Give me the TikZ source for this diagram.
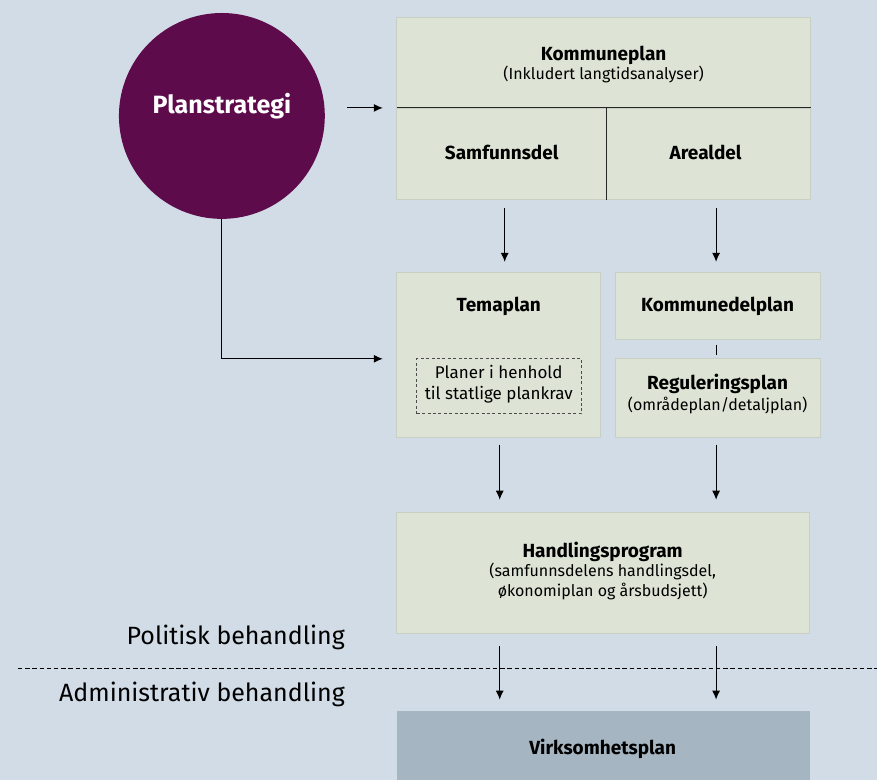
\documentclass[tikz,border=0pt]{standalone}
\usepackage{fontspec}
\setmainfont{Fira Sans}
\usetikzlibrary{arrows.meta,calc}
\definecolor{bgblue}{HTML}{D1DCE6}
\definecolor{boxgreen}{HTML}{DDE4D5}
\definecolor{boxedge}{HTML}{C8D0C6}
\definecolor{plum}{HTML}{5E0B4B}
\definecolor{slate}{HTML}{A5B5C2}
\begin{document}
\begin{tikzpicture}[x=0.5pt, y=-0.5pt]
\tikzset{ >={Latex[length=4.5pt,width=4pt]}, inner sep=0pt, outer sep=0pt,
  cell/.style={fill=boxgreen, draw=boxedge, line width=0.4pt, rectangle},
  head/.style={font=\fontsize{9.5}{11}\selectfont\bfseries, align=center},
  sub/.style={font=\fontsize{8}{10}\selectfont, align=center},
  side/.style={font=\fontsize{12.5}{14}\selectfont, anchor=east},
  link/.style={->, line width=0.5pt},
}
% background
\fill [bgblue] (0,0) rectangle (877,780);
%\draw [lightgray, dashed](0,0) grid (877,780);

\node [fill=plum, circle, minimum size=103pt] (PS) at (222,116) {};
\node [text=white, font=\fontsize{12.5}{14}\selectfont\bfseries] at (222,106) {Planstrategi};

% kommuneplan
\node [cell, minimum width=207pt, minimum height=45.5pt] (KP)  at (604,62.5) {};
\node [cell, minimum width=105pt, minimum height=46pt]   (SAM) at (502,154) {};
\node [cell, minimum width=102pt, minimum height=46pt]   (ARE) at (709,154) {};
\draw [black!85, line width=0.45pt] (KP.south west) -- (KP.south east);
\draw [black!85, line width=0.45pt] (SAM.north east) -- (SAM.south east);

\node [head] at (604,55) {Kommuneplan};
\node [sub]  at (604,74) {(Inkludert langtidsanalyser)};
\node [head] at (502,153) {Samfunnsdel};
\node [head] at (706,153) {Arealdel};

% temaplan og kommunedelplan
\node [cell, minimum width=102pt, minimum height=82.5pt] (TEMA) at (499,355.5) {};
\node [draw=black!70, dashed, dash pattern=on 1.5pt off 1.2pt, line width=0.5pt,
       minimum width=82.5pt, minimum height=27.5pt] (KRAV) at (499.5,386.5) {};
\node [cell, minimum width=102.5pt, minimum height=33.5pt] (KDP) at (718.5,306.5) {};
\node [cell, minimum width=102.5pt, minimum height=39.5pt] (REG) at (718.5,398.5) {};

\node [head] at (499,307) {Temaplan};
\node [sub, font=\fontsize{8.5}{10.5}\selectfont] at (499,384) {Planer i henhold\\til statlige plankrav};
\node [head] at (718,307) {Kommunedelplan};
\node [head] at (718,384) {Reguleringsplan};
\node [sub]  at (718,406) {(områdeplan/detaljplan)};

% handlingsprogram og virksomhetsplan
\node [cell, minimum width=206.5pt, minimum height=60.5pt] (HP) at (603.5,573.5) {};
\node [fill=slate, minimum width=206.5pt, minimum height=34.5pt] (VP) at (603.5,745.5) {};

\node [head] at (603,552) {Handlingsprogram};
\node [sub]  at (603,582) {(samfunnsdelens handlingsdel,\\økonomiplan og årsbudsjett)};
\node [head] at (603,749) {Virksomhetsplan};

% arrows
\draw [link, shorten <=11pt, shorten >=7pt] (PS.east |- KP.south) -- (KP.south west);
\draw [link, shorten >=7pt] (PS.south) |- (TEMA.west |- KRAV.north);

\draw [link, shorten <=4pt, shorten >=5.5pt] (SAM.south) ++(3,0) -- ($(SAM.south |- TEMA.north)+(3,0)$);
\draw [link, shorten <=4pt, shorten >=5.5pt] (ARE.south -| KDP.north) ++(-2,0) -- ($(KDP.north)+(-2,0)$);
\draw [line width=0.5pt, shorten <=2.5pt, shorten >=2pt] (KDP.south) ++(-2,0) -- ($(REG.north)+(-2,0)$);

\draw [link, shorten <=3.5pt, shorten >=6.5pt] (TEMA.south) ++(1,0) -- ($(TEMA.south |- HP.north)+(1,0)$);
\draw [link, shorten <=3.5pt, shorten >=6.5pt] (REG.south) ++(-2,0) -- ($(REG.south |- HP.north)+(-2,0)$);

\draw [link, shorten <=6pt, shorten >=5.5pt] (TEMA.south |- HP.south) ++(1,0) -- ($(TEMA.south |- VP.north)+(1,0)$);
\draw [link, shorten <=6pt, shorten >=5.5pt] (REG.south |- HP.south) ++(-2,0) -- ($(REG.south |- VP.north)+(-2,0)$);

% politisk / administrativ
\draw [dashed, dash pattern=on 2.2pt off 1.4pt, line width=0.5pt] (18,669) -- (877,669);
\node [side] (POL) at (345,638) {Politisk behandling};
\node [side] (ADM) at (345,695) {Administrativ behandling};

\end{tikzpicture}
\end{document}
